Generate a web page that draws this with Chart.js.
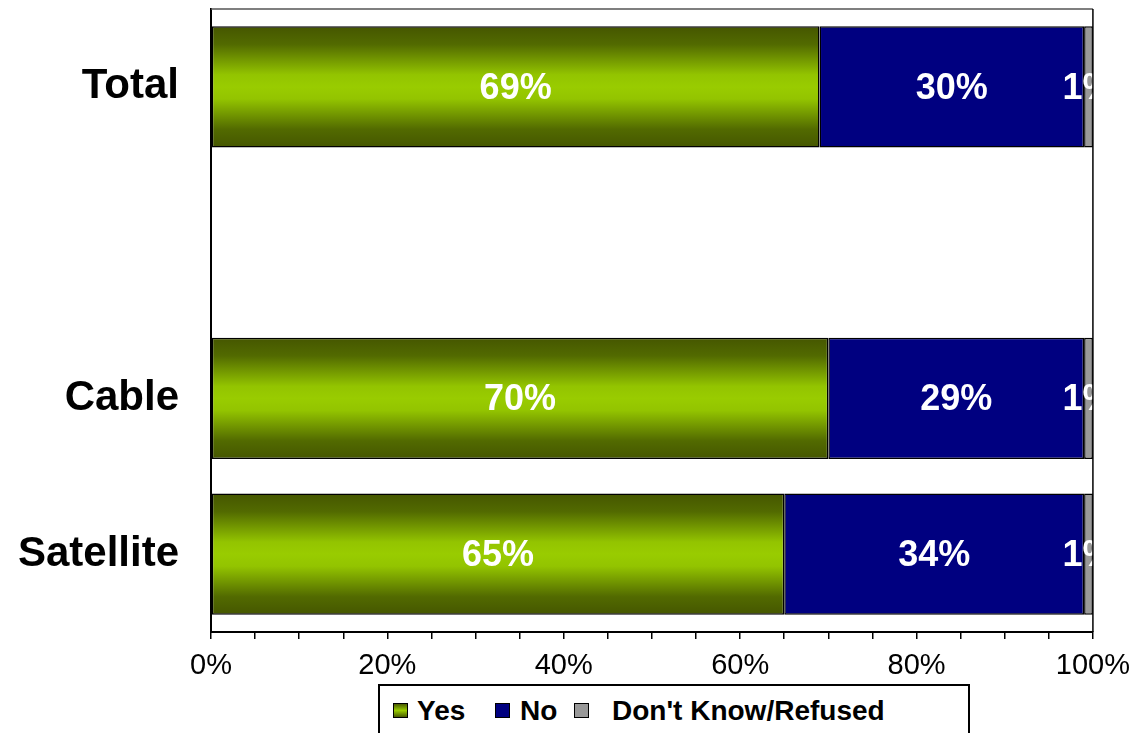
<!DOCTYPE html>
<html>
<head>
<meta charset="utf-8">
<script src="https://cdn.jsdelivr.net/npm/chart.js@4/dist/chart.umd.min.js"></script>
<style>
  body { margin: 0; overflow: hidden; background: #fff; font-family: Arial, 'Liberation Sans', sans-serif; }
  #wrap { position: relative; width: 1140px; height: 733px; }
  .legend { position: absolute; left: 378px; top: 684px; width: 588px; height: 60px; border: 2px solid #000; background: #fff; }
  .legend span { position: absolute; }
  .legend .sw { top: 17px; width: 13px; height: 13px; border: 1px solid #000; }
  .legend .tx { top: 9px; font: bold 28px Arial, 'Liberation Sans', sans-serif; line-height: 32px; color: #000; }
</style>
</head>
<body>
<div id="wrap">
  <canvas id="chart"></canvas>
  <div class="legend" id="legend"></div>
</div>
<script>
const categories = ['Total', '', 'Cable', 'Satellite'];
const yesValues = [69, null, 70, 65];
const noValues = [30, null, 29, 34];
const dkValues = [1, null, 1, 1];
const xTicks = ['0%', '20%', '40%', '60%', '80%', '100%'];

const navy = '#000080';
const grey = '#999999';
const barPct = 0.78;

// vertical olive -> lime -> olive fill, like the original's shaded bars
function yesFill(ctx) {
  const chart = ctx.chart;
  const area = chart.chartArea;
  if (!area || ctx.dataIndex === undefined) return '#99cc00';
  const cy = chart.scales.y.getPixelForValue(ctx.dataIndex);
  const half = area.height / categories.length * barPct / 2;
  const g = chart.ctx.createLinearGradient(0, cy - half, 0, cy + half);
  g.addColorStop(0, '#455600');
  g.addColorStop(0.15, '#526a00');
  g.addColorStop(0.4, '#93c400');
  g.addColorStop(0.5, '#99cc00');
  g.addColorStop(0.6, '#93c400');
  g.addColorStop(0.85, '#526a00');
  g.addColorStop(1, '#455600');
  return g;
}

const frame = {
  id: 'frame',
  afterDraw(chart) {
    const { ctx, chartArea: a } = chart;
    ctx.save();
    ctx.lineWidth = 1.5;
    ctx.strokeStyle = '#555';
    ctx.beginPath();
    ctx.moveTo(a.left, a.top);
    ctx.lineTo(a.right, a.top);
    ctx.stroke();
    ctx.strokeStyle = '#000';
    ctx.beginPath();
    ctx.moveTo(a.right, a.top);
    ctx.lineTo(a.right, a.bottom);
    ctx.stroke();
    ctx.restore();
  },
};

const valueLabels = {
  id: 'valueLabels',
  afterDatasetsDraw(chart) {
    const { ctx, chartArea: a } = chart;
    ctx.save();
    ctx.beginPath();
    ctx.rect(a.left, a.top, a.right - a.left, a.bottom - a.top);
    ctx.clip();
    ctx.fillStyle = '#fff';
    ctx.font = "bold 36px Arial, 'Liberation Sans', sans-serif";
    ctx.textAlign = 'center';
    ctx.textBaseline = 'middle';
    chart.data.datasets.forEach((ds, i) => {
      chart.getDatasetMeta(i).data.forEach((bar, j) => {
        const v = ds.data[j];
        if (v == null) return;
        ctx.fillText(v + '%', (bar.x + bar.base) / 2, bar.y + 2);
      });
    });
    ctx.restore();
  },
};

const canvas = document.getElementById('chart');

const data = {
  labels: categories,
  datasets: [
    { label: 'Yes', data: yesValues, backgroundColor: yesFill },
    { label: 'No', data: noValues, backgroundColor: navy },
    { label: "Don't Know/Refused", data: dkValues, backgroundColor: grey },
  ],
};

const options = {
  indexAxis: 'y',
  responsive: true,
  maintainAspectRatio: false,
  animation: false,
  layout: { padding: { top: 9, right: 46, left: 0, bottom: 0 } },
  datasets: {
    bar: {
      categoryPercentage: 1,
      barPercentage: barPct,
      borderColor: '#000',
      borderWidth: 1.5,
      borderSkipped: false,
    },
  },
  scales: {
    x: {
      stacked: true,
      min: 0,
      max: 100,
      afterFit(scale) {
        scale.height = 101;
        scale.paddingLeft = 0;
      },
      border: { color: '#000', width: 2 },
      grid: { drawOnChartArea: false, drawTicks: true, tickLength: 7, color: '#000', lineWidth: 1.5 },
      ticks: {
        stepSize: 5,
        autoSkip: false,
        maxRotation: 0,
        padding: 10,
        color: '#000',
        font: { size: 29, family: "Arial, 'Liberation Sans', sans-serif" },
        callback: (v) => (v % 20 === 0 ? xTicks[v / 20] : ''),
      },
    },
    y: {
      stacked: true,
      afterFit(scale) {
        scale.width = 211;
        scale.paddingTop = 0;
        scale.paddingBottom = 0;
      },
      border: { color: '#000', width: 2 },
      grid: { display: false, drawTicks: false },
      ticks: {
        padding: 32,
        color: '#000',
        font: { size: 42, weight: 'bold', family: "Arial, 'Liberation Sans', sans-serif" },
      },
    },
  },
  plugins: {
    legend: { display: false },
    tooltip: { enabled: false },
  },
};

const chart = new Chart(canvas, {
  type: 'bar',
  data,
  options,
  plugins: [valueLabels, frame],
});

// legend drawn as html under the plot, boxed like the original
const legend = document.getElementById('legend');
const legendItems = [
  { text: 'Yes', fill: 'linear-gradient(#4a5c00, #99cc00 50%, #4a5c00)', sw: 13, tx: 37 },
  { text: 'No', fill: navy, sw: 115, tx: 140 },
  { text: "Don't Know/Refused", fill: grey, sw: 194, tx: 232 },
];
legendItems.forEach((it) => {
  const sw = document.createElement('span');
  sw.className = 'sw';
  sw.style.left = it.sw + 'px';
  sw.style.background = it.fill;
  const tx = document.createElement('span');
  tx.className = 'tx';
  tx.style.left = it.tx + 'px';
  tx.textContent = it.text;
  legend.append(sw, tx);
});
</script>
</body>
</html>
